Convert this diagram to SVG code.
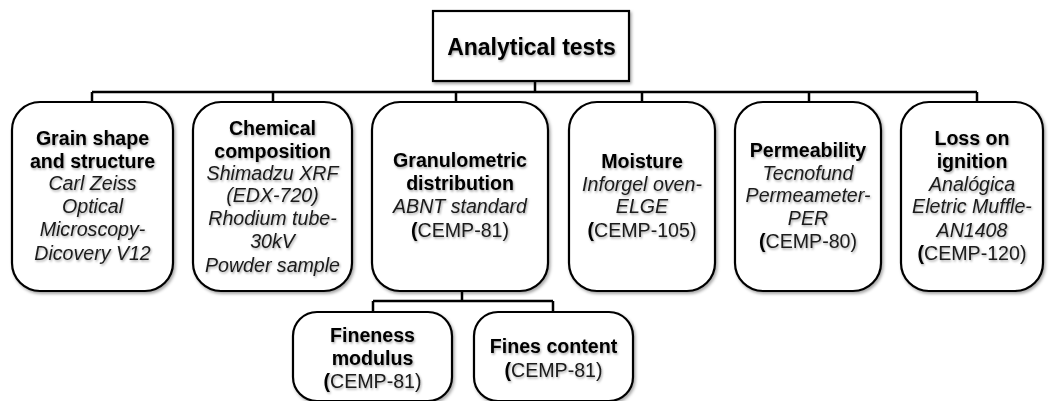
<svg xmlns="http://www.w3.org/2000/svg" width="1049" height="401" viewBox="0 0 1049 401">
<defs>
<filter id="sh" x="-20%" y="-20%" width="140%" height="140%">
<feDropShadow dx="1.5" dy="2" stdDeviation="1.5" flood-color="#000" flood-opacity="0.35"/>
</filter>
<filter id="tsh" x="-10%" y="-30%" width="120%" height="160%">
<feDropShadow dx="1" dy="1.5" stdDeviation="1.2" flood-color="#000" flood-opacity="0.35"/>
</filter>
</defs>
<style>
.box{fill:#fff;stroke:#000;stroke-width:2.2;filter:url(#sh)}
.conn{fill:none;stroke:#000;stroke-width:2.5}
text{font-family:"Liberation Sans",Arial,sans-serif;font-size:19.6px;text-anchor:middle;fill:#1a1a1a;filter:url(#tsh)}
.b{font-weight:bold;fill:#000}
.i{font-style:italic}
</style>
<rect width="1049" height="401" fill="#fff"/>
<g id="connectors">
<path class="conn" d="M535 81V92M92 92H977M92 92V103M273 92V103M456 92V103M642 92V103M809 92V103M977 92V103"/>
<path class="conn" d="M462 291V301M373 301H553M373 301V312M553 301V312"/>
</g>
<g id="root">
<rect class="box" x="433" y="11" width="196" height="70"/>
<text class="b" x="531.5" y="55" style="font-size:23px">Analytical tests</text>
</g>
<g id="grain">
<rect class="box" x="12" y="102" width="161" height="189" rx="28"/>
<text class="b" x="92.5" y="145">Grain shape</text>
<text class="b" x="92.5" y="168">and structure</text>
<text class="i" x="92.5" y="190">Carl Zeiss</text>
<text class="i" x="92.5" y="213">Optical</text>
<text class="i" x="92.5" y="236">Microscopy-</text>
<text class="i" x="92.5" y="260">Dicovery V12</text>
</g>
<g id="chemical">
<rect class="box" x="193" y="102" width="159" height="189" rx="28"/>
<text class="b" x="272.5" y="135">Chemical</text>
<text class="b" x="272.5" y="158">composition</text>
<text class="i" x="272.5" y="180">Shimadzu XRF</text>
<text class="i" x="272.5" y="202">(EDX-720)</text>
<text class="i" x="272.5" y="225">Rhodium tube-</text>
<text class="i" x="272.5" y="248">30kV</text>
<text class="i" x="272.5" y="272">Powder sample</text>
</g>
<g id="granulometric">
<rect class="box" x="372" y="102" width="176" height="189" rx="28"/>
<text class="b" x="460" y="167">Granulometric</text>
<text class="b" x="460" y="190">distribution</text>
<text class="i" x="460" y="213">ABNT standard</text>
<text x="460" y="237"><tspan class="b">(</tspan>CEMP-81)</text>
</g>
<g id="moisture">
<rect class="box" x="569" y="102" width="146" height="189" rx="28"/>
<text class="b" x="642" y="168">Moisture</text>
<text class="i" x="642" y="191">Inforgel oven-</text>
<text class="i" x="642" y="213">ELGE</text>
<text x="642" y="237"><tspan class="b">(</tspan>CEMP-105)</text>
</g>
<g id="permeability">
<rect class="box" x="735" y="102" width="146" height="189" rx="28"/>
<text class="b" x="808" y="157">Permeability</text>
<text class="i" x="808" y="180">Tecnofund</text>
<text class="i" x="808" y="202">Permeameter-</text>
<text class="i" x="808" y="225">PER</text>
<text x="808" y="248"><tspan class="b">(</tspan>CEMP-80)</text>
</g>
<g id="loss">
<rect class="box" x="901" y="102" width="142" height="189" rx="28"/>
<text class="b" x="972" y="145">Loss on</text>
<text class="b" x="972" y="168">ignition</text>
<text class="i" x="972" y="191">Analógica</text>
<text class="i" x="972" y="213">Eletric Muffle-</text>
<text class="i" x="972" y="237">AN1408</text>
<text x="972" y="260"><tspan class="b">(</tspan>CEMP-120)</text>
</g>
<g id="fineness">
<rect class="box" x="293" y="312" width="159" height="89" rx="24"/>
<text class="b" x="372.5" y="342">Fineness</text>
<text class="b" x="372.5" y="365">modulus</text>
<text x="372.5" y="388"><tspan class="b">(</tspan>CEMP-81)</text>
</g>
<g id="fines">
<rect class="box" x="474" y="312" width="159" height="89" rx="24"/>
<text class="b" x="553.5" y="353">Fines content</text>
<text x="553.5" y="377"><tspan class="b">(</tspan>CEMP-81)</text>
</g>
</svg>
